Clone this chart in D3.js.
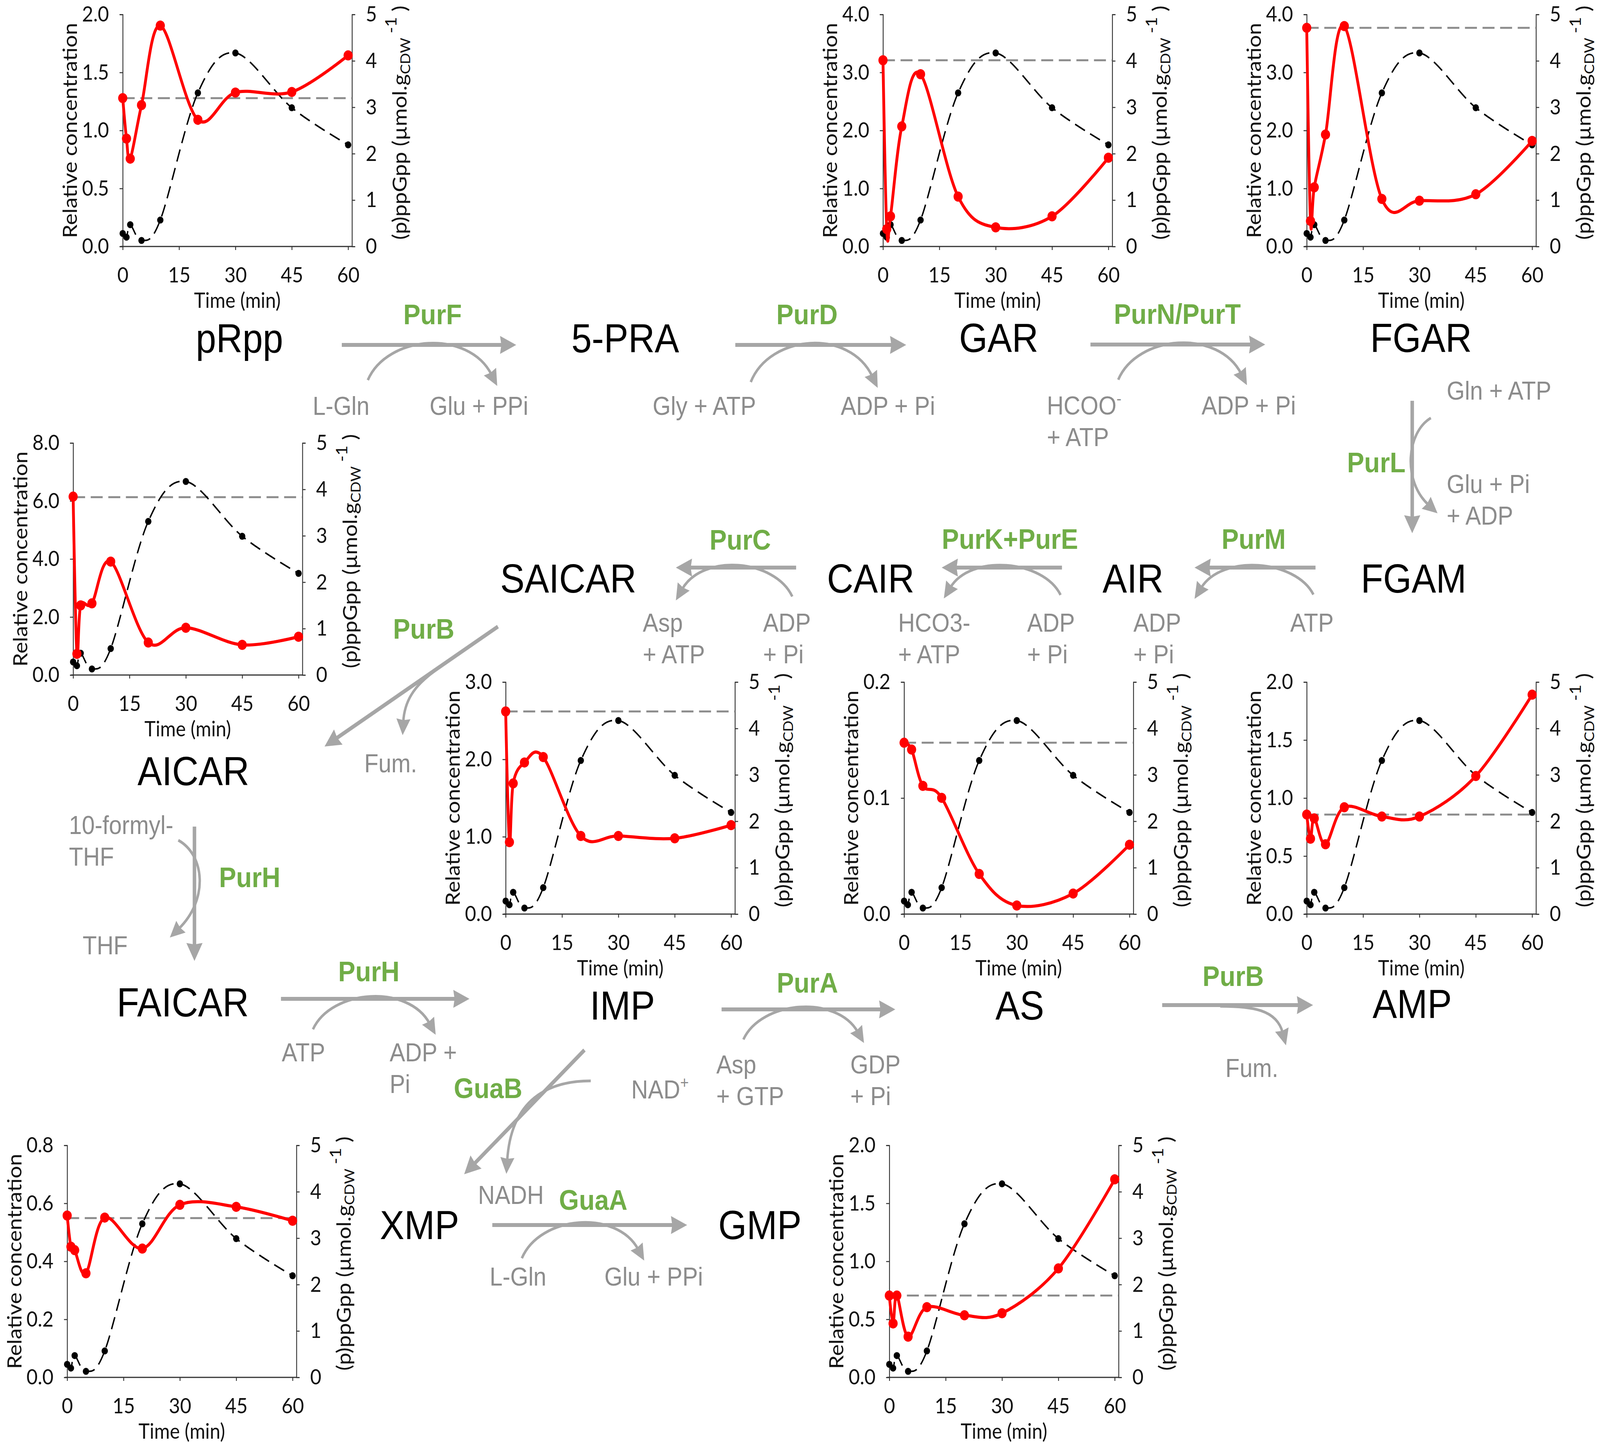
<!DOCTYPE html>
<html><head><meta charset="utf-8">
<script src="https://cdn.jsdelivr.net/npm/d3@7"></script>
<style>
html,body{margin:0;padding:0;background:#fff;overflow:hidden;width:100%;height:100%;}
#fig{display:block;width:100vw;height:100vh;}
</style>
</head><body>
<svg id="fig" viewBox="0 0 4550 3694" preserveAspectRatio="none"></svg>
<script>
// ================= DATA =================
const TIMES = [0, 1, 2, 5, 10, 20, 30, 45, 60];            // min
const PPGPP = [0.28, 0.20, 0.47, 0.13, 0.57, 3.31, 4.17, 2.99, 2.19]; // µmol/gCDW (right axis)
const X_TICKS = [0, 15, 30, 45, 60];
const Y2_TICKS = [0, 1, 2, 3, 4, 5];

const METABOLITES = ["pRpp", "GAR", "FGAR", "AICAR", "IMP", "AS", "AMP", "XMP", "GMP"];
const Y_MAX  = [2.0, 4.0, 4.0, 8.0, 3.0, 0.2, 2.0, 0.8, 2.0];
const Y_STEP = [0.5, 1.0, 1.0, 2.0, 1.0, 0.1, 0.5, 0.2, 0.5];
const REF_LEVEL = [1.279, 3.21, 3.77, 6.13, 2.62, 0.1477, 0.858, 0.549, 0.705];

const C_PRPP  = [1.279, 0.930, 0.757, 1.219, 1.904, 1.092, 1.327, 1.332, 1.647];
const C_GAR   = [3.21, 0.30, 0.52, 2.07, 2.97, 0.86, 0.33, 0.52, 1.53];
const C_FGAR  = [3.77, 0.44, 1.02, 1.93, 3.80, 0.82, 0.79, 0.90, 1.82];
const C_AICAR = [6.15, 0.73, 2.40, 2.47, 3.91, 1.12, 1.63, 1.04, 1.32];
const C_IMP   = [2.62, 0.93, 1.69, 1.96, 2.03, 1.01, 1.01, 0.98, 1.15];
const C_AS    = [0.1477, null, 0.1418, 0.1105, 0.1002, 0.0346, 0.0074, 0.0177, 0.0598];
const C_AMP   = [0.858, 0.650, 0.825, 0.602, 0.921, 0.841, 0.841, 1.19, 1.891];
const C_XMP   = [0.558, 0.4505, 0.4386, 0.359, 0.551, 0.444, 0.595, 0.588, 0.540];
const C_GMP   = [0.705, 0.465, 0.705, 0.351, 0.605, 0.535, 0.553, 0.939, 1.707];
const SERIES = [C_PRPP, C_GAR, C_FGAR, C_AICAR, C_IMP, C_AS, C_AMP, C_XMP, C_GMP];

// ================= LAYOUT (positions, not data) =================
const CHART_POS = [[349,37],[2511,37],[3716,37],[208,1134],[1438,1746],[2571,1746],[3716,1746],[191,2932],[2529,2932]];
const CW = 652, CH = 594;

const F_CHART = "Lato, 'Liberation Sans', Arial, sans-serif";
const F_PATH = "'Liberation Sans', Arial, sans-serif";
const GREEN = "#70AD47", ARROW = "#A6A6A6", COF = "#8C8C8C";

const svg = d3.select("#fig");
svg.append("rect").attr("width", 4550).attr("height", 3694).attr("fill", "#fff");
const defs = svg.append("defs");

// ================= CHARTS =================
SERIES.forEach((vals, i) => {
  const [L, T] = CHART_POS[i];
  const g = svg.append("g").attr("transform", `translate(${L},${T})`);
  const x = d3.scaleLinear().domain([0, 60]).range([0, CW - 11]);
  const y = d3.scaleLinear().domain([0, Y_MAX[i]]).range([CH, 0]);
  const y2 = d3.scaleLinear().domain([0, 5]).range([CH, 0]);

  const clipId = "clip" + i;
  defs.append("clipPath").attr("id", clipId).append("rect")
    .attr("x", -20).attr("y", -40).attr("width", CW + 40).attr("height", CH + 41);

  // axes
  const yTicks = d3.range(0, Y_MAX[i] + Y_STEP[i] / 2, Y_STEP[i]);
  const ax = g.append("g").call(d3.axisLeft(y).tickValues(yTicks).tickFormat(d3.format(".1f"))
      .tickSizeOuter(0).tickSize(9).tickPadding(30));
  const ax2 = g.append("g").attr("transform", `translate(${CW},0)`)
    .call(d3.axisRight(y2).tickValues(Y2_TICKS).tickFormat(d3.format("d"))
      .tickSizeOuter(0).tickSize(9).tickPadding(30));
  const axb = g.append("g").attr("transform", `translate(0,${CH})`)
    .call(d3.axisBottom(x).tickValues(X_TICKS).tickFormat(d3.format("d"))
      .tickSizeOuter(0).tickSize(9));
  axb.select(".domain").remove();
  g.append("line").attr("x1", -6).attr("x2", CW).attr("y1", CH).attr("y2", CH)
    .attr("stroke", "#333").attr("stroke-width", 3);
  [ax, ax2, axb].forEach(a => {
    a.selectAll(".domain").attr("stroke", "#333").attr("stroke-width", 2.5);
    a.selectAll(".tick line").attr("stroke", "#333").attr("stroke-width", 2.5);
    a.selectAll("text").attr("font-family", F_CHART).attr("font-size", 55).attr("fill", "#111");
  });
  axb.selectAll("text").attr("y", 92).attr("dy", null);

  g.append("text").attr("x", CW / 2).attr("y", CH + 157).attr("text-anchor", "middle")
    .attr("font-family", F_CHART).attr("font-size", 54).attr("fill", "#111").text("Time (min)");

  g.append("text").attr("transform", `translate(${-150},${CH / 2}) rotate(-90)`)
    .attr("text-anchor", "middle").attr("dy", "0.35em")
    .attr("font-family", F_CHART).attr("font-size", 56).attr("fill", "#111").text("Relative concentration");

  const rl = g.append("text").attr("transform", `translate(${CW + 155},${CH / 2 - 20}) rotate(-90)`)
    .attr("text-anchor", "middle").attr("font-family", F_CHART).attr("font-size", 56).attr("fill", "#111");
  rl.append("tspan").text("(p)ppGpp (µmol.g");
  rl.append("tspan").attr("font-size", 38).attr("dy", 10).text("CDW");
  rl.append("tspan").attr("font-size", 44).attr("dy", -38).text(" -1");
  rl.append("tspan").attr("dy", 28).text(" )");

  const plot = g.append("g").attr("clip-path", `url(#${clipId})`);
  // reference level
  plot.append("line").attr("x1", 0).attr("x2", CW).attr("y1", y(REF_LEVEL[i])).attr("y2", y(REF_LEVEL[i]))
    .attr("stroke", "#8C8C8C").attr("stroke-width", 5).attr("stroke-dasharray", "34,16");

  // ppGpp
  const pp = TIMES.map((t, k) => ({t, v: PPGPP[k]}));
  const ppLine = d3.line().x(d => x(d.t)).y(d => y2(d.v)).curve(d3.curveCardinal.tension(0));
  plot.append("path").attr("d", ppLine(pp)).attr("fill", "none").attr("stroke", "#000")
    .attr("stroke-width", 4).attr("stroke-dasharray", "32,17");
  plot.selectAll("circle.pp").data(pp).join("circle").attr("class", "pp")
    .attr("cx", d => x(d.t)).attr("cy", d => y2(d.v)).attr("r", 9).attr("fill", "#000");

  // metabolite
  const md = TIMES.map((t, k) => ({t, v: vals[k]})).filter(d => d.v !== null);
  const mLine = d3.line().x(d => x(d.t)).y(d => y(d.v)).curve(d3.curveCardinal.tension(0));
  plot.append("path").attr("d", mLine(md)).attr("fill", "none").attr("stroke", "#FF0000")
    .attr("stroke-width", 8);
  plot.selectAll("circle.m").data(md).join("circle").attr("class", "m")
    .attr("cx", d => x(d.t)).attr("cy", d => y(d.v)).attr("r", 13).attr("fill", "#FF0000");
});

// ================= PATHWAY =================
const P = svg.append("g");

function head(tip, ux, uy, len, hw) {
  const bx = tip[0] - ux * len, by = tip[1] - uy * len;
  const px = -uy, py = ux;
  P.append("path").attr("d",
    `M${tip[0]},${tip[1]} L${bx + px * hw},${by + py * hw} L${bx + ux * len * 0.08},${by + uy * len * 0.08} L${bx - px * hw},${by - py * hw} Z`)
    .attr("fill", ARROW);
}
function mainArrow(s, e) {
  const dx = e[0] - s[0], dy = e[1] - s[1], n = Math.hypot(dx, dy), ux = dx / n, uy = dy / n;
  const len = 46;
  P.append("line").attr("x1", s[0]).attr("y1", s[1]).attr("x2", e[0] - ux * len * 0.8).attr("y2", e[1] - uy * len * 0.8)
    .attr("stroke", ARROW).attr("stroke-width", 10);
  head(e, ux, uy, len, 23);
}
function curveArrow(p0, c1, c2, p3) {
  const dx = p3[0] - c2[0], dy = p3[1] - c2[1], n = Math.hypot(dx, dy), ux = dx / n, uy = dy / n;
  const len = 42, back = len * 0.8;
  const e = [p3[0] - ux * back, p3[1] - uy * back];
  const c2b = [c2[0] - ux * back * 0.5, c2[1] - uy * back * 0.5];
  const p = d3.path(); p.moveTo(p0[0], p0[1]); p.bezierCurveTo(c1[0], c1[1], c2b[0], c2b[1], e[0], e[1]);
  P.append("path").attr("d", p.toString()).attr("fill", "none").attr("stroke", ARROW).attr("stroke-width", 7);
  head(p3, ux, uy, len, 20);
}
function hArc(x0, y0, x3, y3, apexY) {
  const yc = (4 * apexY - (y0 + y3) / 2) / 3, dx = x3 - x0;
  curveArrow([x0, y0], [x0 + dx * 0.15, yc], [x0 + dx * 0.8, yc], [x3, y3]);
}
function vArc(x0, y0, x3, y3, apexX, f2) {
  const xc = (4 * apexX - (x0 + x3) / 2) / 3, dy = y3 - y0;
  curveArrow([x0, y0], [xc, y0 + dy * 0.15], [xc, y0 + dy * f2], [x3, y3]);
}

// main reaction arrows [start, tip]
const MAIN_ARROWS = [
  [[972, 883], [1468, 883]], [[2091, 883], [2577, 883]], [[3101, 882], [3598, 882]],
  [[4016, 1026], [4016, 1365]],
  [[3741, 1453], [3397, 1453]], [[3020, 1453], [2678, 1453]], [[2264, 1453], [1922, 1453]],
  [[1416, 1604], [923, 1911]], [[553, 2116], [553, 2460]], [[799, 2557], [1335, 2557]],
  [[2052, 2584], [2546, 2584]], [[3305, 2573], [3734, 2573]],
  [[1662, 2688], [1320, 3006]], [[1400, 3136], [1954, 3136]]
];
MAIN_ARROWS.forEach(a => mainArrow(a[0], a[1]));

// co-substrate arcs
hArc(1046, 973, 1414, 988, 888);
hArc(2135, 978, 2496, 993, 888);
hArc(3180, 972, 3546, 986, 887);
vArc(4069, 1070, 4088, 1314, 4020, 0.7);
hArc(3735, 1522, 3397, 1533, 1456);
hArc(3016, 1523, 2684, 1532, 1456);
hArc(2253, 1527, 1922, 1537, 1456);
curveArrow([1252, 1707], [1205, 1738], [1150, 1790], [1145, 1882]);
vArc(507, 2151, 483, 2400, 560, 0.65);
hArc(890, 2635, 1239, 2649, 2560);
hArc(2114, 2661, 2457, 2670, 2587);
curveArrow([3470, 2576], [3560, 2576], [3635, 2600], [3657, 2676]);
hArc(1484, 3221, 1832, 3227, 3139);
curveArrow([1680, 2767], [1560, 2767], [1452, 2830], [1440, 3005]);

// metabolite names
const PATH_NAMES = [
  ["pRpp", 681, 902], ["5-PRA", 1778, 902], ["GAR", 2840, 901], ["FGAR", 4041, 901],
  ["SAICAR", 1616, 1517], ["CAIR", 2476, 1517], ["AIR", 3222, 1517], ["FGAM", 4020, 1517],
  ["AICAR", 550, 2010], ["FAICAR", 520, 2602], ["IMP", 1770, 2610], ["AS", 2900, 2610], ["AMP", 4016, 2606],
  ["XMP", 1193, 3172], ["GMP", 2161, 3172]
];
PATH_NAMES.forEach(([t, x, y]) => P.append("text").attr("x", x).attr("y", y).attr("text-anchor", "middle")
  .attr("font-family", F_PATH).attr("font-size", 104).attr("fill", "#000").text(t));

// enzymes
const ENZYMES = [
  ["PurF", 1230, 830, "middle"], ["PurD", 2295, 830, "middle"], ["PurN/PurT", 3348, 829, "middle"],
  ["PurL", 3997, 1209, "end"], ["PurC", 2105, 1407, "middle"], ["PurK+PurE", 2872, 1405, "middle"],
  ["PurM", 3565, 1405, "middle"], ["PurB", 1205, 1635, "middle"], ["PurH", 710, 2271, "middle"],
  ["PurH", 1049, 2512, "middle"], ["PurA", 2296, 2541, "middle"], ["PurB", 3507, 2524, "middle"],
  ["GuaB", 1388, 2811, "middle"], ["GuaA", 1687, 3097, "middle"]
];
ENZYMES.forEach(([t, x, y, a]) => P.append("text").attr("x", x).attr("y", y).attr("text-anchor", a)
  .attr("font-family", F_PATH).attr("font-size", 73).attr("font-weight", "bold").attr("fill", GREEN).text(t));

// cofactors: [lines, x, y, anchor]
const COFACTORS = [
  [["L-Gln"], 970, 1062, "middle"], [["Glu + PPi"], 1362, 1062, "middle"],
  [["Gly + ATP"], 2003, 1062, "middle"], [["ADP + Pi"], 2525, 1062, "middle"],
  [["HCOO^-", "+ ATP"], 2977, 1061, "start"], [["ADP + Pi"], 3551, 1061, "middle"],
  [["Gln + ATP"], 4114, 1023, "start"], [["Glu + Pi", "+ ADP"], 4114, 1262, "start"],
  [["Asp", "+ ATP"], 1828, 1617, "start"], [["ADP", "+ Pi"], 2170, 1617, "start"],
  [["HCO3-", "+ ATP"], 2554, 1617, "start"], [["ADP", "+ Pi"], 2921, 1617, "start"],
  [["ADP", "+ Pi"], 3223, 1617, "start"], [["ATP"], 3669, 1617, "start"],
  [["Fum."], 1111, 1977, "middle"], [["10-formyl-", "THF"], 196, 2135, "start"],
  [["THF"], 299, 2443, "middle"], [["ATP"], 863, 2717, "middle"], [["ADP +", "Pi"], 1108, 2717, "start"],
  [["Asp", "+ GTP"], 2037, 2748, "start"], [["GDP", "+ Pi"], 2418, 2748, "start"],
  [["Fum."], 3560, 2757, "middle"], [["NAD^+"], 1795, 2812, "start"],
  [["NADH"], 1453, 3082, "middle"], [["L-Gln"], 1473, 3291, "middle"], [["Glu + PPi"], 1859, 3291, "middle"]
];
COFACTORS.forEach(([lines, x, y, a]) => {
  lines.forEach((ln, k) => {
    const t = P.append("text").attr("x", x).attr("y", y + k * 81).attr("text-anchor", a)
      .attr("font-family", F_PATH).attr("font-size", 66).attr("fill", COF);
    const parts = ln.split("^");
    t.append("tspan").text(parts[0]);
    if (parts[1]) t.append("tspan").attr("font-size", 42).attr("dy", -26).text(parts[1]);
  });
});
</script>
</body></html>
